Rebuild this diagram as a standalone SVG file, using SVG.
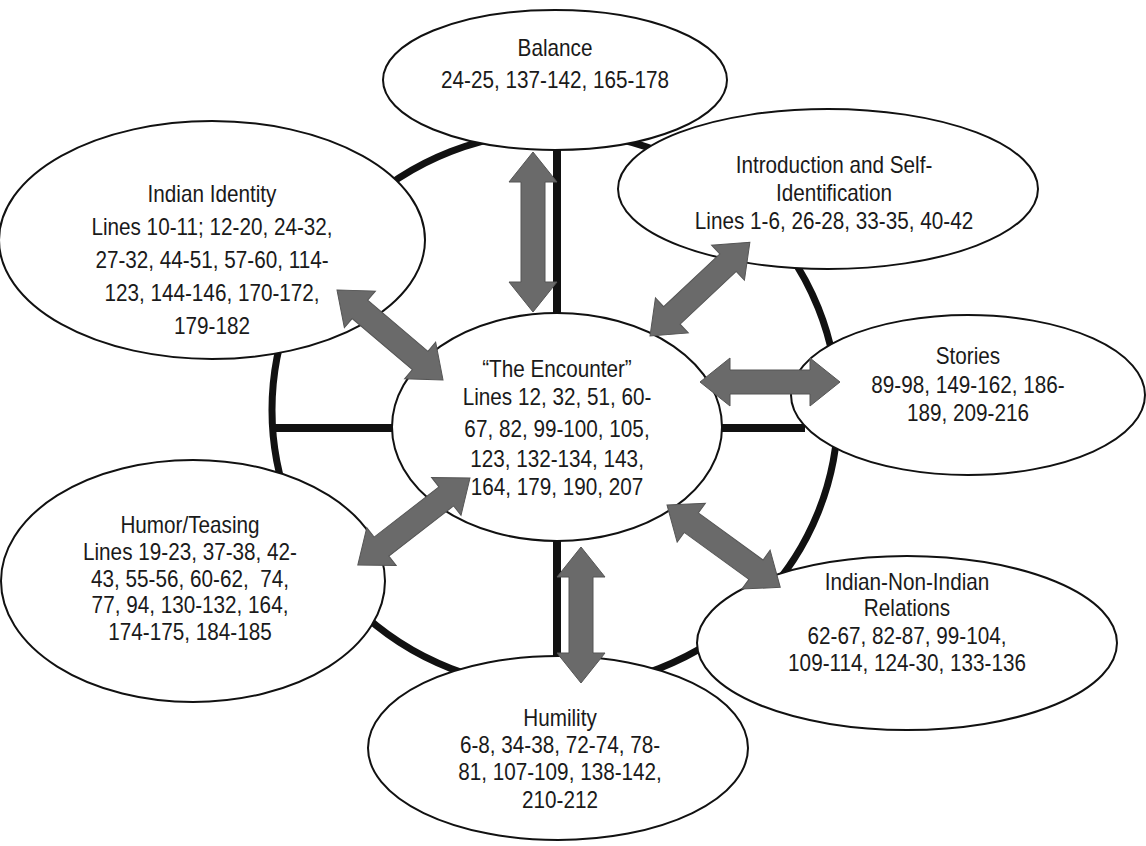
<svg xmlns="http://www.w3.org/2000/svg" width="1146" height="846" viewBox="0 0 1146 846">
<defs>
<style>
.ring{fill:none;stroke:#111;stroke-width:7}
.spoke{stroke:#111;stroke-width:8}
.node{fill:#fff;stroke:#111;stroke-width:2}
.t{font-family:"Liberation Sans",Arial,sans-serif;font-size:23px;fill:#1a1a1a;text-anchor:middle}
.arr{fill:#6a6a6a;stroke:#555;stroke-width:1}
</style>
</defs>
<rect width="1146" height="846" fill="#fff"/>
<g id="frame">
<ellipse class="ring" cx="555" cy="410" rx="283" ry="278"/>
<line class="spoke" x1="557" y1="140" x2="557" y2="320"/>
<line class="spoke" x1="557" y1="535" x2="557" y2="665"/>
<line class="spoke" x1="272" y1="428" x2="400" y2="428"/>
<line class="spoke" x1="715" y1="428" x2="805" y2="428"/>
</g>
<g id="node-balance">
<ellipse class="node" cx="555" cy="80" rx="172" ry="70"/>
<g transform="translate(555 0) scale(0.9 1)"><text class="t"><tspan x="0" y="56">Balance</tspan><tspan x="0" y="88">24-25, 137-142, 165-178</tspan></text></g>
</g>
<g id="node-intro">
<ellipse class="node" cx="828" cy="189" rx="210" ry="80"/>
<g transform="translate(834 0) scale(0.9 1)"><text class="t"><tspan x="0" y="173">Introduction and Self-</tspan><tspan x="0" y="201">Identification</tspan><tspan x="0" y="229">Lines 1-6, 26-28, 33-35, 40-42</tspan></text></g>
</g>
<g id="node-identity">
<ellipse class="node" cx="212" cy="240" rx="213" ry="119"/>
<g transform="translate(212 0) scale(0.9 1)"><text class="t"><tspan x="0" y="202">Indian Identity</tspan><tspan x="0" y="235">Lines 10-11; 12-20, 24-32,</tspan><tspan x="0" y="268">27-32, 44-51, 57-60, 114-</tspan><tspan x="0" y="301">123, 144-146, 170-172,</tspan><tspan x="0" y="334">179-182</tspan></text></g>
</g>
<g id="node-stories">
<ellipse class="node" cx="968" cy="395" rx="177" ry="80"/>
<g transform="translate(968 0) scale(0.9 1)"><text class="t"><tspan x="0" y="364">Stories</tspan><tspan x="0" y="393">89-98, 149-162, 186-</tspan><tspan x="0" y="421">189, 209-216</tspan></text></g>
</g>
<g id="node-relations">
<ellipse class="node" cx="907" cy="643" rx="210" ry="87"/>
<g transform="translate(907 0) scale(0.9 1)"><text class="t"><tspan x="0" y="590">Indian-Non-Indian</tspan><tspan x="0" y="616">Relations</tspan><tspan x="0" y="644">62-67, 82-87, 99-104,</tspan><tspan x="0" y="671">109-114, 124-30, 133-136</tspan></text></g>
</g>
<g id="node-humility">
<ellipse class="node" cx="558" cy="748" rx="190" ry="92"/>
<g transform="translate(560 0) scale(0.9 1)"><text class="t"><tspan x="0" y="726">Humility</tspan><tspan x="0" y="753">6-8, 34-38, 72-74, 78-</tspan><tspan x="0" y="780">81, 107-109, 138-142,</tspan><tspan x="0" y="808">210-212</tspan></text></g>
</g>
<g id="node-humor">
<ellipse class="node" cx="193" cy="581" rx="192" ry="121"/>
<g transform="translate(190 0) scale(0.9 1)"><text class="t"><tspan x="0" y="533">Humor/Teasing</tspan><tspan x="0" y="560">Lines 19-23, 37-38, 42-</tspan><tspan x="0" y="587">43, 55-56, 60-62, &#160;74,</tspan><tspan x="0" y="613">77, 94, 130-132, 164,</tspan><tspan x="0" y="640">174-175, 184-185</tspan></text></g>
</g>
<g id="node-encounter">
<ellipse class="node" cx="557" cy="427" rx="165" ry="114"/>
<g transform="translate(557 0) scale(0.9 1)"><text class="t"><tspan x="0" y="377">“The Encounter”</tspan><tspan x="0" y="405">Lines 12, 32, 51, 60-</tspan><tspan x="0" y="437">67, 82, 99-100, 105,</tspan><tspan x="0" y="467">123, 132-134, 143,</tspan><tspan x="0" y="495">164, 179, 190, 207</tspan></text></g>
</g>
<g id="connectors">
<path class="arr" transform="translate(533 152) rotate(90)" d="M0,0 L30,-24 L30,-12 L130,-12 L130,-24 L160,0 L130,24 L130,12 L30,12 L30,24 Z"/>
<path class="arr" transform="translate(650 336) rotate(-43.2)" d="M0,0 L30,-24 L30,-12 L107,-12 L107,-24 L137,0 L107,24 L107,12 L30,12 L30,24 Z"/>
<path class="arr" transform="translate(700 382)" d="M0,0 L30,-24 L30,-12 L110,-12 L110,-24 L140,0 L110,24 L110,12 L30,12 L30,24 Z"/>
<path class="arr" transform="translate(667 505) rotate(36)" d="M0,0 L30,-24 L30,-12 L110,-12 L110,-24 L140,0 L110,24 L110,12 L30,12 L30,24 Z"/>
<path class="arr" transform="translate(581 547) rotate(90)" d="M0,0 L30,-24 L30,-12 L106,-12 L106,-24 L136,0 L106,24 L106,12 L30,12 L30,24 Z"/>
<path class="arr" transform="translate(470 478) rotate(142.2)" d="M0,0 L30,-24 L30,-12 L112,-12 L112,-24 L142,0 L112,24 L112,12 L30,12 L30,24 Z"/>
<path class="arr" transform="translate(337 290) rotate(40.3)" d="M0,0 L30,-24 L30,-12 L109,-12 L109,-24 L139,0 L109,24 L109,12 L30,12 L30,24 Z"/>
</g>
</svg>
